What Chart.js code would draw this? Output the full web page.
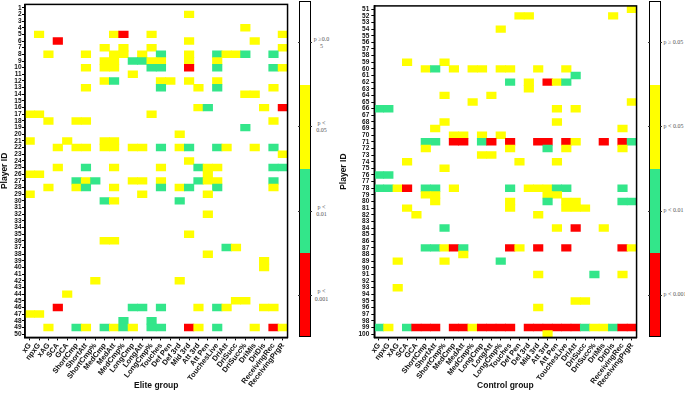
<!DOCTYPE html>
<html><head><meta charset="utf-8">
<script src="https://cdn.jsdelivr.net/npm/chart.js@4.4.0/dist/chart.umd.min.js"></script>
<style>
html,body{margin:0;padding:0;background:#fff;width:685px;height:394px;overflow:hidden;position:relative;font-family:'Liberation Sans',Arial,sans-serif;}
.box{position:absolute;top:0;height:394px;}
.cbar{position:absolute;top:0.7px;height:336.5px;border:1px solid #000;box-sizing:border-box;}
.seg{position:absolute;left:0;right:0;height:25%;}
.lab{position:absolute;font-family:'Liberation Serif','DejaVu Serif',serif;font-size:6px;color:#555;white-space:nowrap;line-height:7.4px;transform:translateY(-50%);}
.labc{text-align:center;transform:translate(-50%,-50%);}
.tk{position:absolute;width:2px;height:1px;background:#333;}
</style></head><body>
<div class="box" style="left:0;width:291px"><canvas id="cA"></canvas></div>
<div class="box" style="left:338px;width:302px"><canvas id="cB"></canvas></div>
<div id="legA"></div><div id="legB"></div>
<script>
// ---- data ----
const metrics = ['xG','npxG','xAG','SCA','GCA','ShortCmp','ShortAtt','ShortCmp%','MedCmp','MedAtt','MedCmp%','LongCmp','LongAtt','LongCmp%','Touches','Def Pen','Def 3rd','Mid 3rd','Att 3rd','Att Pen','TouchesLive','DriAtt','DriSucc','DriSucc%','DriMis','DriDis','ReceivingRec','ReceivingPrgR'];
const eliteIds = [1,2,3,4,5,6,7,8,9,10,11,12,13,14,15,16,17,18,19,20,21,22,23,24,25,26,27,28,29,30,31,32,33,34,35,36,37,38,39,40,41,42,43,44,45,46,47,48,49,50];
const controlIds = [51,52,53,54,55,56,57,58,59,60,61,62,63,64,65,66,67,68,69,70,71,72,73,74,75,76,77,78,79,80,81,82,83,84,85,86,87,88,89,90,91,92,93,94,95,96,97,98,99,100];
// significance level per player (row) and metric (column): '.' p>=0.05, '1' p<0.05, '2' p<0.01, '3' p<0.001
const eliteGrid = [
"....... ....... ....... .......",
"....... ....... ...1... .......",
"....... ....... ....... .......",
"....... ....... ....... ..1....",
".1..... ..13..1 ....... ......1",
"...3... ....... ...1... ...1...",
"....... .1.1..1 ....... ......1",
"..1...1 ..11.1. 2..1..2 112..2.",
"....... .11.221 1..1..1 .......",
"......1 .11...2 2..3..2 .....21",
"....... ....1.. ....... .......",
"....... .12.... 11.1..1 .......",
"......1 ....... 2...1.2 .....1.",
"....... ....... ....... ..11...",
"....... ....... ....... .......",
"....... ....... ....12. ....1.3",
"11..... ......1 ....... .......",
"..1..11 ....... ....... .....1.",
"....... ....... ....... ..2....",
"....... ....... ..1.... .......",
"1...1.. .11.... ....... .......",
"...1.11 .11.11. 2.12..2 1..1.2.",
"....... ....... ....... ......1",
"....... ....... ...1... .......",
"...1..2 ..1.... 1...211 .....22",
"11..... ....... .....1. .......",
".....21 2...11. 1...211 .....2.",
"..1..12 ..1.... 2.12..2 .....1.",
"1...... .....1. .....1. .......",
"....... .21.... ..2.... .......",
"....... ....... ....... .......",
"....... ....... .....1. .......",
"....... ....... ....... .......",
"....... ....... ....... .......",
"....... ....... ...1... .......",
"....... .11.... ....... .......",
"....... ....... ....... 21.....",
"....... ....... .....1. .......",
"....... ....... ....... ....1..",
"....... ....... ....... ....1..",
"....... ....... ....... .......",
"....... 1...... ..1.... .......",
"....... ....... ....... .......",
"....1.. ....... ....... .......",
"....... ....... ....... .11....",
"...3... ....22. 2...1.2 1...11.",
"11..... ....... ....... .......",
"....... ...2..2 ....... .......",
"..1..21 .2121.2 2..31.2 ...1.31",
"....... ....... ....... ......."
];
const controlGrid = [
"....... ....... ....... ......1",
"....... ....... .11.... ....1..",
"....... ....... ....... .......",
"....... ......1 ....... .......",
"....... ....... ....... .......",
"....... ....... ....... .......",
"....... ....... ....... .......",
"....... ....... ....... .......",
"...1... 1...... ....... .......",
".....12 .1.11.1 1..1..1 .......",
"....... ....... ....... 2......",
"....... ....... 2.1.312 .......",
"....... ....... ..1.... .......",
"....... 1....1. ....... .......",
"....... ...1... ....... ......1",
"22..... ....... .....1. 1......",
"....... ....... ....... .......",
"....... 1...... .....1. .......",
"......1 ....... ....... .....1.",
"....... .11.1.1 ....... .......",
".....22 .33.23. 3..33.3 1..3.32",
".....1. ....... 1...2.1 .....1.",
"....... ....11. ....... .......",
"...1... ....... .1...1. .......",
"....... 1...... ....... .......",
"22..... ....... ....... .......",
"....... ....... ....... .......",
"2213.22 .1..... 2.11122 .....2.",
".....11 ....... ....11. .......",
"......1 ....... 1...2.1 1....22",
"...1... ....... 1.....1 11.....",
"....1.. ....... ...1... .......",
"....... ....... ....... .......",
"....... 2...... .....1. 3..1...",
"....... ....... ....... .......",
"....... ....... ....... .......",
".....22 132.... 31.3..3 .....31",
"....... ..1.... ....... .......",
"..1.... 1.....2 ....... .......",
"....... ....... ....... .......",
"....... ....... ...1... ..2..1.",
"....... ....... ....... .......",
"..1.... ....... ....... .......",
"....... ....... ....... .......",
"....... ....... ....... 11.....",
"....... ....... ...1... .......",
"....... ....... ....... .......",
"....... ....... ....... .......",
"21.2333 .331333 3.33333 3211233",
"....... ....... ....1.. ......."
];
const levelLabelsA = [['p \u22650.0','5'],['p <','0.05'],['p <','0.01'],['p <','0.001']];
const levelLabelsB = ['p \u2265 0.05','p < 0.05','p < 0.01','p < 0.001'];

// ---- styles ----
const levelColors = ['#ffffff','#ffff00','#33e68a','#ff0000'];
const FONT = "'Liberation Sans', Arial, sans-serif";
Chart.defaults.font.family = FONT;

function cells(grid, ids){
  const out = [];
  grid.forEach((row, i) => {
    const s = row.replace(/ /g,'');
    for (let j = 0; j < s.length; j++) {
      if (s[j] !== '.') out.push({x: metrics[j], y: [ids[i] - 0.5, ids[i] + 0.5], level: +s[j]});
    }
  });
  return out;
}

const frame = {id:'frame', afterDatasetsDraw(chart){
  const {ctx, chartArea:a} = chart;
  ctx.save(); ctx.strokeStyle = '#000'; ctx.lineWidth = 1.5;
  ctx.strokeRect(a.left, a.top, a.right - a.left, a.bottom - a.top);
  ctx.restore();
}};

function makeChart(id, grid, ids, title, o){
  return new Chart(document.getElementById(id), {
    type: 'bar',
    data: {labels: metrics, datasets: [{
      data: cells(grid, ids),
      backgroundColor: c => levelColors[c.raw ? c.raw.level : 0],
      borderWidth: 0, barPercentage: 1, categoryPercentage: 1, grouped: false, inflateAmount: 0.4
    }]},
    options: {
      responsive: true, maintainAspectRatio: false, animation: false,
      layout: {padding: {top: 0.6, right: o.padRight, left: 0, bottom: 0}},
      plugins: {legend: {display: false}, tooltip: {enabled: false}},
      scales: {
        x: {
          type: 'category', offset: true,
          grid: {display: true, drawOnChartArea: false, drawTicks: true, tickLength: 3, color: '#000', offset: false},
          border: {display: true, color: '#000', width: 1.5},
          ticks: {autoSkip: false, minRotation: 52, maxRotation: 52, padding: 1, color: '#111',
                  font: {size: 7.5, weight: 'bold'}},
          title: {display: true, text: title, color: '#111', font: {size: 8.5, weight: 'bold', lineHeight: 1},
                  padding: {top: 0, bottom: 3.8}},
          afterFit: s => { s.height = 394 - 337.4; }
        },
        y: {
          type: 'linear', reverse: true, min: ids[0] - 0.5, max: ids[ids.length - 1] + 0.5,
          afterBuildTicks: s => { s.ticks = ids.map(v => ({value: v})); },
          grid: {display: true, drawOnChartArea: false, drawTicks: true, tickLength: 3, color: '#000'},
          border: {display: true, color: '#000', width: 1.5},
          ticks: {autoSkip: false, padding: o.tickPad, color: '#111', font: {size: 6.5, weight: 'bold'},
                  callback: v => String(v)},
          title: {display: true, text: 'Player ID', color: '#111', font: {size: 8.5, weight: 'bold', lineHeight: 1},
                  padding: {top: o.titlePad, bottom: 0}},
          afterFit: s => { s.width = o.yWidth; }
        }
      }
    },
    plugins: [frame]
  });
}

makeChart('cA', eliteGrid, eliteIds, 'Elite group', {padRight: 2.8, yWidth: 25, tickPad: 0.5, titlePad: 0.3});
makeChart('cB', controlGrid, controlIds, 'Control group', {padRight: 2, yWidth: 36.3, tickPad: 2, titlePad: 1.2});

// ---- colour-bar legends ----
function legend(el, left, width, labels, labX, centered){
  let h = `<div class="cbar" style="left:${left}px;width:${width}px">`;
  for (let i = 0; i < 4; i++) h += `<div class="seg" style="top:${i*25}%;background:${levelColors[i]}"></div>`;
  h += '</div>';
  const top = 0.7, H = 336.5;
  labels.forEach((t, i) => {
    const y = top + H * (i + 0.5) / 4;
    h += `<div class="tk" style="left:${left - 1}px;top:${y - 0.5}px"></div>`;
    h += `<div class="tk" style="left:${left + width - 1}px;top:${y - 0.5}px"></div>`;
    const txt = Array.isArray(t) ? t.join('<br>') : t;
    h += `<div class="lab ${centered ? 'labc' : ''}" style="left:${labX}px;top:${y}px">${txt}</div>`;
  });
  document.getElementById(el).innerHTML = h;
}
legend('legA', 298.8, 12, levelLabelsA, 321.5, true);
legend('legB', 648.8, 12, levelLabelsB, 663.5, false);
</script>
</body></html>
